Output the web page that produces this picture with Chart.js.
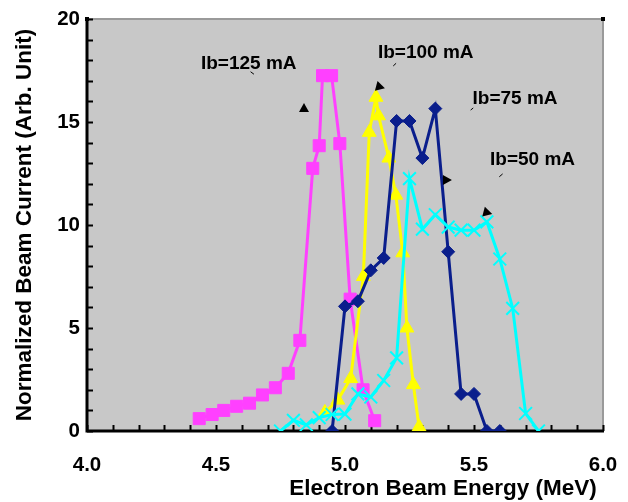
<!DOCTYPE html>
<html>
<head>
<meta charset="utf-8">
<script src="https://cdn.jsdelivr.net/npm/chart.js@4"></script>
<style>
  body { margin: 0; background: #fff; }
  #beam { display: block; }
</style>
</head>
<body>
<canvas id="beam" width="628" height="502"></canvas>
<script>
// values
const energy125 = [4.435, 4.485, 4.53, 4.58, 4.63, 4.68, 4.73, 4.78, 4.825, 4.875, 4.90, 4.913, 4.948, 4.98, 5.02, 5.07, 5.115];
const current125 = [0.6, 0.8, 1.0, 1.2, 1.35, 1.75, 2.1, 2.8, 4.4, 12.75, 13.85, 17.25, 17.25, 13.95, 6.4, 2.0, 0.5];

const energy100 = [4.922, 4.972, 5.022, 5.071, 5.094, 5.12, 5.13, 5.17, 5.197, 5.224, 5.24, 5.265, 5.287];
const current100 = [0.9, 1.5, 2.55, 7.5, 14.5, 16.2, 15.3, 13.25, 11.45, 8.65, 5.0, 2.25, 0.2];

const energy75 = [4.95, 5.00, 5.05, 5.10, 5.15, 5.20, 5.25, 5.30, 5.35, 5.40, 5.45, 5.50, 5.55, 5.60];
const current75 = [0, 6.05, 6.3, 7.8, 8.4, 15.05, 15.05, 13.25, 15.65, 8.7, 1.8, 1.8, 0, 0];

const energy50 = [4.75, 4.80, 4.85, 4.90, 4.95, 5.00, 5.05, 5.10, 5.15, 5.20, 5.25, 5.30, 5.35, 5.40, 5.45, 5.50, 5.55, 5.60, 5.65, 5.70, 5.75];
const current50 = [0, 0.52, 0.3, 0.65, 0.8, 0.82, 1.8, 1.65, 2.45, 3.55, 12.25, 9.8, 10.5, 9.9, 9.75, 9.75, 10.15, 8.35, 5.95, 0.85, 0];

// labels placed in data units
const labelTexts = ['Ib=125 mA', 'Ib=100 mA', 'Ib=75 mA', 'Ib=50 mA'];
const labelX = [4.627, 5.313, 5.659, 5.727];
const labelY = [17.82, 18.36, 16.15, 13.16];
// leftover stubs of the arrow lines and their heads
const stubX = [[4.634, 4.647], [5.187, 5.198], [5.487, 5.497], [5.598, 5.611]];
const stubY = [[17.44, 17.32], [17.72, 17.85], [15.58, 15.68], [12.34, 12.48]];
const headX = [4.841, 5.136, 5.395, 5.552];
const headY = [15.68, 16.70, 12.18, 10.60];
const headAngle = [-90, 15, 0, 15];

const xMajor = [4.0, 4.5, 5.0, 5.5, 6.0];
const yMajor = [0, 5, 10, 15, 20];

function pairs(xs, ys) {
  return xs.map((x, i) => ({ x: x, y: ys[i] }));
}

const FONT = "'Liberation Sans', Arial, sans-serif";

// plot frame, inward ticks and the text labels
const framePlugin = {
  id: 'frame',
  beforeDatasetsDraw(chart) {
    const { ctx, chartArea: a, scales } = chart;
    ctx.save();
    ctx.fillStyle = '#c8c8c8';
    ctx.fillRect(a.left, a.top, a.right - a.left, a.bottom - a.top);

    ctx.strokeStyle = '#9a9a9a';
    ctx.lineWidth = 2;
    ctx.beginPath();
    ctx.moveTo(a.left, a.top);
    ctx.lineTo(a.right, a.top);
    ctx.lineTo(a.right, a.bottom);
    ctx.stroke();

    ctx.strokeStyle = '#000';
    ctx.lineWidth = 2;
    ctx.beginPath();
    scales.x.ticks.forEach(t => {
      const px = Math.round(scales.x.getPixelForValue(t.value)) + 0.5;
      ctx.moveTo(px, a.bottom);
      ctx.lineTo(px, a.bottom - 6);
    });
    scales.y.ticks.forEach(t => {
      const py = Math.round(scales.y.getPixelForValue(t.value)) + 0.5;
      ctx.moveTo(a.left, py);
      ctx.lineTo(a.left + 6, py);
    });
    ctx.stroke();

    ctx.lineWidth = 3;
    ctx.beginPath();
    ctx.moveTo(a.left, a.top);
    ctx.lineTo(a.left, a.bottom);
    ctx.lineTo(a.right + 1, a.bottom);
    ctx.stroke();
    ctx.fillStyle = '#000';
    ctx.fillRect(a.right - 2, a.top - 2, 4, 4);
    ctx.fillRect(a.left - 2, a.top - 2, 4, 4);
    ctx.restore();
  },
  afterDraw(chart) {
    const { ctx, scales } = chart;
    const x = scales.x, y = scales.y;
    ctx.save();
    ctx.fillStyle = '#000';
    ctx.font = 'bold 19px ' + FONT;
    ctx.textAlign = 'center';
    ctx.textBaseline = 'middle';
    labelTexts.forEach((txt, i) => {
      ctx.fillText(txt, x.getPixelForValue(labelX[i]), y.getPixelForValue(labelY[i]));
    });

    ctx.strokeStyle = '#000';
    ctx.lineWidth = 1;
    ctx.beginPath();
    stubX.forEach((sx, i) => {
      ctx.moveTo(x.getPixelForValue(sx[0]), y.getPixelForValue(stubY[i][0]));
      ctx.lineTo(x.getPixelForValue(sx[1]), y.getPixelForValue(stubY[i][1]));
    });
    ctx.stroke();

    headX.forEach((hx, i) => {
      ctx.save();
      ctx.translate(x.getPixelForValue(hx), y.getPixelForValue(headY[i]));
      ctx.rotate(headAngle[i] * Math.PI / 180);
      ctx.beginPath();
      ctx.moveTo(5, 0);
      ctx.lineTo(-4, -5);
      ctx.lineTo(-4, 5);
      ctx.closePath();
      ctx.fill();
      ctx.restore();
    });
    ctx.restore();
  }
};

function series(label, xs, ys, color, style, radius) {
  return {
    label: label,
    data: pairs(xs, ys),
    borderColor: color,
    backgroundColor: color,
    borderWidth: 3,
    pointStyle: style,
    pointRadius: radius,
    pointHoverRadius: radius,
    pointBorderColor: color,
    pointBackgroundColor: color,
    pointBorderWidth: style === 'crossRot' ? 2 : 1,
    tension: 0
  };
}

new Chart(document.getElementById('beam'), {
  type: 'line',
  data: {
    datasets: [
      series('Ib=50 mA', energy50, current50, '#00ffff', 'crossRot', 9),
      series('Ib=75 mA', energy75, current75, '#0a1e8c', 'rectRot', 6.5),
      series('Ib=100 mA', energy100, current100, '#ffff00', 'triangle', 8),
      series('Ib=125 mA', energy125, current125, '#ff40ff', 'rect', 8.5)
    ]
  },
  options: {
    responsive: false,
    animation: false,
    devicePixelRatio: 1,
    layout: { padding: { top: 19, right: 25, left: 0, bottom: 0 } },
    plugins: {
      legend: { display: false },
      tooltip: { enabled: false }
    },
    scales: {
      x: {
        type: 'linear',
        min: 4,
        max: 6,
        grid: { display: false, drawTicks: false },
        border: { display: false },
        ticks: {
          stepSize: 0.1,
          autoSkip: false,
          maxRotation: 0,
          padding: 22,
          color: '#000',
          font: { family: FONT, size: 20.5, weight: 'bold' },
          callback: v => xMajor.some(m => Math.abs(m - v) < 1e-6) ? v.toFixed(1) : ''
        },
        title: {
          display: true,
          // trailing space pulls the right-aligned title a little off the edge
          text: 'Electron Beam Energy (MeV) ',
          align: 'end',
          color: '#000',
          padding: { top: 0, bottom: 1.5 },
          font: { family: FONT, size: 22.5, weight: 'bold', lineHeight: 1 }
        },
        afterFit: s => {
          s.height = 71;
          s.paddingLeft = 0;
          s.paddingRight = 0;
        }
      },
      y: {
        min: 0,
        max: 20,
        grid: { display: false, drawTicks: false },
        border: { display: false },
        ticks: {
          stepSize: 1,
          autoSkip: false,
          padding: 7,
          color: '#000',
          font: { family: FONT, size: 20.5, weight: 'bold' },
          callback: v => yMajor.includes(v) ? String(v) : ''
        },
        title: {
          display: true,
          text: 'Normalized Beam Current (Arb. Unit)',
          color: '#000',
          padding: { top: 14, bottom: 0 },
          font: { family: FONT, size: 22.5, weight: 'bold', lineHeight: 1 }
        },
        afterFit: s => {
          s.width = 87;
          s.paddingTop = 0;
          s.paddingBottom = 0;
        }
      }
    }
  },
  plugins: [framePlugin]
});
</script>
</body>
</html>
